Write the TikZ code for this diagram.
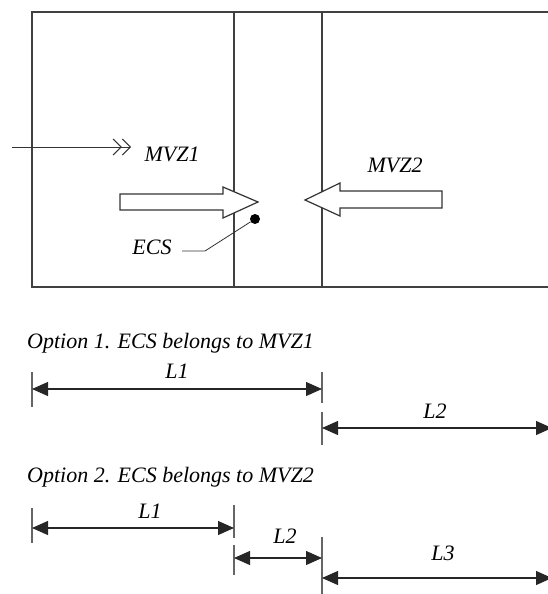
\documentclass[tikz,border=0pt]{standalone}
\usepackage{fontspec}
\setmainfont{Liberation Serif}
\usetikzlibrary{arrows.meta}

\begin{document}
\begin{tikzpicture}[x=1pt, y=-1pt,
  wall/.style={draw=black!75, line width=1.3pt},
  lbl/.style={font=\fontsize{22}{26}\selectfont\itshape, inner sep=0pt, anchor=base},
  dim/.style={{Triangle[length=16pt,width=14pt]}-{Triangle[length=16pt,width=14pt]}, draw=black!85, line width=1.1pt},
  tick/.style={draw=black!60, line width=1.1pt},
  bigarrow/.style={draw=black!80, line width=1.2pt, fill=white},
  flow/.style={-{Straight Barb[length=8pt,width=16pt]Straight Barb[length=8pt,width=16pt]}, draw=black!80, line width=1pt},
  leader/.style={draw=black!80, line width=0.8pt}]

  \useasboundingbox (0,0) rectangle (548,594);

  % zones
  \draw[wall] (552,12) -- (32,12) -- (32,287) -- (552,287);
  \draw[wall] (234,12) -- (234,287);
  \draw[wall] (322,12) -- (322,287);

  \coordinate (in) at (12,147);
  \coordinate (inend) at (131,147);
  \draw[flow] (in) -- (inend);
  \node[lbl] (mvz1) at (172,161) {MVZ1};
  \node[lbl] (mvz2) at (395,172) {MVZ2};

  \draw[bigarrow] (120,194) -- (223,194) -- (223,187) -- (258,202) -- (223,218) -- (223,210) -- (120,210) -- cycle;
  \draw[bigarrow] (442,191) -- (340,191) -- (340,183) -- (305,200) -- (340,216) -- (340,208) -- (442,208) -- cycle;

  \node[circle, fill=black, inner sep=0pt, minimum size=10pt] (ecs) at (255,219) {};
  \node[lbl] (ecstext) at (152,254) {ECS};
  \coordinate (lead) at (182,251);
  \coordinate (bend) at (205,251);
  \draw[leader] (lead) -- (bend) -- (ecs);

  % option 1
  \node[lbl, anchor=base west] (opt1) at (27,348) {Option 1. ECS belongs to MVZ1};
  \coordinate (a0) at (32,389);
  \coordinate (a1) at (322,389);
  \coordinate (b0) at (322,428);
  \coordinate (b1) at (552,428);
  \draw[tick] (32,372) -- (32,407);
  \draw[tick] (322,372) -- (322,403);
  \draw[tick] (322,412) -- (322,445);
  \draw[dim] (a0) -- (a1);
  \draw[dim] (b0) -- (b1);
  \node[lbl] (l1a) at (177,378) {L1};
  \node[lbl] (l2a) at (435,418) {L2};

  % option 2
  \node[lbl, anchor=base west] (opt2) at (27,482) {Option 2. ECS belongs to MVZ2};
  \coordinate (c0) at (32,528);
  \coordinate (c1) at (234,528);
  \coordinate (d0) at (234,558);
  \coordinate (d1) at (322,558);
  \coordinate (e0) at (322,578);
  \coordinate (e1) at (552,578);
  \draw[tick] (32,508) -- (32,543);
  \draw[tick] (234,505) -- (234,538);
  \draw[tick] (234,545) -- (234,575);
  \draw[tick] (322,537) -- (322,594);
  \draw[dim] (c0) -- (c1);
  \draw[dim] (d0) -- (d1);
  \draw[dim] (e0) -- (e1);
  \node[lbl] (l1b) at (150,518) {L1};
  \node[lbl] (l2b) at (285,543) {L2};
  \node[lbl] (l3b) at (443,560) {L3};
\end{tikzpicture}
\end{document}
